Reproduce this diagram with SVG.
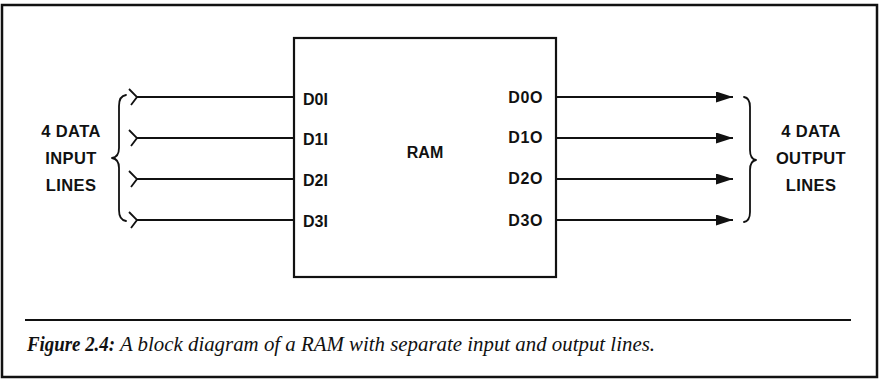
<svg xmlns="http://www.w3.org/2000/svg" width="879" height="379" viewBox="0 0 879 379">
  <style>
    .frame { fill: none; stroke: #111; stroke-width: 2.5; }
    .box { fill: #fff; stroke: #111; stroke-width: 2.2; }
    .wire { fill: none; stroke: #111; stroke-width: 1.8; }
    .brace { fill: none; stroke: #111; stroke-width: 1.8; stroke-linejoin: round; stroke-linecap: round; }
    .lbl { font-family: "Liberation Sans", Arial, sans-serif; font-weight: bold; font-size: 16px; fill: #111; }
    .side { font-family: "Liberation Sans", Arial, sans-serif; font-weight: bold; font-size: 16.5px; fill: #111; text-anchor: middle; letter-spacing: 0.4px; }
    .cap { font-family: "Liberation Serif", "Times New Roman", serif; font-style: italic; fill: #111; }
  </style>
  <defs>
    <marker id="arrow" markerWidth="18" markerHeight="12" refX="17" refY="5.5" orient="auto" markerUnits="userSpaceOnUse">
      <path d="M0,0 L17,5.5 L0,11 Z" fill="#111"/>
    </marker>
  </defs>

  <rect width="879" height="379" fill="#fff"/>
  <rect class="frame" x="2" y="5" width="875" height="372"/>

  <!-- RAM block -->
  <g id="ram">
    <rect class="box" x="294" y="38" width="262" height="239"/>
    <text class="lbl" x="425" y="158" text-anchor="middle" font-size="16.5">RAM</text>
    <text class="lbl" x="303" y="105">D0I</text>
    <text class="lbl" x="303" y="145">D1I</text>
    <text class="lbl" x="303" y="186">D2I</text>
    <text class="lbl" x="303" y="227">D3I</text>
    <text class="lbl" x="543" y="103" text-anchor="end" letter-spacing="0.6">D0O</text>
    <text class="lbl" x="543" y="143" text-anchor="end" letter-spacing="0.6">D1O</text>
    <text class="lbl" x="543" y="184" text-anchor="end" letter-spacing="0.6">D2O</text>
    <text class="lbl" x="543" y="226" text-anchor="end" letter-spacing="0.6">D3O</text>
  </g>

  <!-- input side label -->
  <g id="inputs">
    <text class="side" x="71" y="137">4 DATA</text>
    <text class="side" x="71" y="164">INPUT</text>
    <text class="side" x="71" y="191">LINES</text>
    <path class="brace" d="M126 95 Q119 96 119 106 L119 148 Q119 157 112 158 Q119 159 119 168 L119 210 Q119 220 126 221"/>
  </g>

  <!-- output side label -->
  <g id="outputs">
    <text class="side" x="811" y="137">4 DATA</text>
    <text class="side" x="811" y="164">OUTPUT</text>
    <text class="side" x="811" y="191">LINES</text>
    <path class="brace" d="M744 97 Q750 98 750 107 L750 150 Q750 159 756 160 Q750 161 750 170 L750 212 Q750 221 744 222"/>
  </g>

  <!-- data lines -->
  <g id="connectors">
    <path class="wire" d="M129 89 L137 97 L131 105 M137 97 L294 97"/>
    <path class="wire" d="M129 130 L137 138 L131 146 M137 138 L294 138"/>
    <path class="wire" d="M129 171 L137 179 L131 187 M137 179 L294 179"/>
    <path class="wire" d="M129 212 L137 220 L131 228 M137 220 L294 220"/>
    <line class="wire" x1="556" y1="97" x2="733" y2="97" marker-end="url(#arrow)"/>
    <line class="wire" x1="556" y1="138" x2="733" y2="138" marker-end="url(#arrow)"/>
    <line class="wire" x1="556" y1="179" x2="733" y2="179" marker-end="url(#arrow)"/>
    <line class="wire" x1="556" y1="220" x2="733" y2="220" marker-end="url(#arrow)"/>
  </g>

  <!-- caption -->
  <line x1="25" y1="320" x2="851" y2="320" stroke="#111" stroke-width="2"/>
  <text class="cap" x="27" y="351" font-size="20" font-weight="bold" textLength="88" lengthAdjust="spacingAndGlyphs">Figure 2.4:</text>
  <text class="cap" x="120" y="351" font-size="20.5" textLength="535" lengthAdjust="spacingAndGlyphs">A block diagram of a RAM with separate input and output lines.</text>
</svg>
